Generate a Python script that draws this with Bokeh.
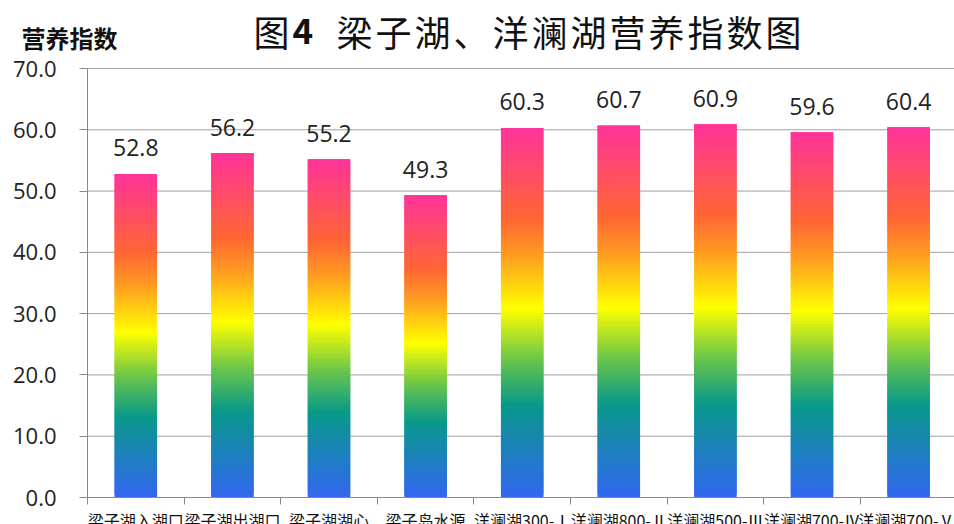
from bokeh.plotting import figure
from bokeh.models import Range1d, FixedTicker, Label, ColumnDataSource
from bokeh.core.properties import value
from bokeh.embed import file_html
from bokeh.resources import INLINE

categories = ["梁子湖入湖口", "梁子湖出湖口", "梁子湖湖心", "梁子岛水源",
              "洋澜湖300-Ⅰ", "洋澜湖800-Ⅱ", "洋澜湖500-Ⅲ", "洋澜湖700-Ⅳ", "洋澜湖700-Ⅴ"]
values = [52.8, 56.2, 55.2, 49.3, 60.3, 60.7, 60.9, 59.6, 60.4]
y_ticks = [0, 10, 20, 30, 40, 50, 60, 70]
y_max = 70
title_head = "图"
title_num = "4"
title_rest = "梁子湖、洋澜湖营养指数图"
y_title = "营养指数"

# gradient stops (fraction of bar height, colour)
stops = [(0.0, (0x33, 0x66, 0xF2)), (0.25, (0x08, 0x99, 0x8A)), (0.37, (0x66, 0xC4, 0x4C)),
         (0.51, (0xFF, 0xFF, 0x00)), (0.66, (0xFF, 0x99, 0x22)), (0.755, (0xFF, 0x66, 0x33)),
         (1.0, (0xFF, 0x33, 0x99))]


def grad_color(f):
    for (f0, c0), (f1, c1) in zip(stops[:-1], stops[1:]):
        if f <= f1:
            t = (f - f0) / (f1 - f0) if f1 > f0 else 0
            r, g, b = (int(round(a + (bb - a) * t)) for a, bb in zip(c0, c1))
            return "#%02x%02x%02x" % (r, g, b)
    return "#%02x%02x%02x" % stops[-1][1]


# page geometry (pixels): where the plotting area sits inside the canvas
W, H = 954, 524
ax_left_px, ax_bottom_px, ax_top_px = 87, 497, 68
cat_px = 96.6
unit_px = (ax_bottom_px - ax_top_px) / y_max

x_start = -ax_left_px / cat_px
x_end = (W - ax_left_px) / cat_px
y_start = -(H - ax_bottom_px) / unit_px
y_end = y_max + ax_top_px / unit_px

n = len(categories)
centers = [i + 0.5 for i in range(n)]
N = 120
half = 0.22
ql, qr, qb, qt, qc = [], [], [], [], []
for xc, v in zip(centers, values):
    for k in range(N):
        ql.append(xc - half)
        qr.append(xc + half)
        qb.append(v * k / N)
        qt.append(min(v, v * (k + 2) / N))
        qc.append(grad_color((k + 0.5) / N))

p = figure(width=W, height=H, output_backend="svg", toolbar_location=None,
           x_range=Range1d(x_start, x_end), y_range=Range1d(y_start, y_end),
           min_border_left=0, min_border_right=0, min_border_top=0, min_border_bottom=0)
p.outline_line_color = None
p.background_fill_color = "white"
p.xgrid.visible = False
p.ygrid.visible = False

# horizontal grid lines, from the axis to the right edge
p.segment(x0=[0] * len(y_ticks), x1=[n] * len(y_ticks), y0=y_ticks, y1=y_ticks,
          line_color="#a0a0a0", line_width=1)

p.quad(left=ql, right=qr, bottom=qb, top=qt, fill_color=qc, line_color=None)

src = ColumnDataSource(dict(x=centers, y=values, t=["%.1f" % v for v in values]))
p.text(x="x", y="y", text="t", source=src, text_align="center", text_baseline="alphabetic",
       y_offset=-26, text_font=value("Open Sans"), text_font_size="23px", text_color="#222222")

# y axis
ya = p.yaxis[0]
ya.fixed_location = 0
ya.bounds = (0, y_max)
ya.ticker = FixedTicker(ticks=y_ticks)
ya.major_label_overrides = {t: "%.1f" % t for t in y_ticks}
ya.major_label_text_font = "Open Sans"
ya.major_label_text_font_size = "22px"
ya.major_label_text_color = "#222222"
ya.major_label_standoff = 23
ya.major_tick_out = 8
ya.major_tick_in = 0
ya.minor_tick_line_color = None
ya.axis_line_color = "#888888"
ya.major_tick_line_color = "#888888"

# x axis
xa = p.xaxis[0]
xa.fixed_location = 0
xa.bounds = (0, n)
xa.ticker = FixedTicker(ticks=centers, minor_ticks=list(range(n + 1)))
xa.major_label_overrides = {c: lab for c, lab in zip(centers, categories)}
xa.major_label_text_font = "Noto Sans CJK SC"
xa.major_label_text_font_size = "16px"
xa.major_label_text_color = "#111111"
xa.major_label_standoff = 3
xa.major_tick_out = 7
xa.major_tick_line_color = None
xa.minor_tick_out = 7
xa.minor_tick_in = 0
xa.minor_tick_line_color = "#888888"
xa.axis_line_color = "#888888"

# titles (screen units, measured from the bottom-left of the canvas)
p.add_layout(Label(x=21, y=H - 37, x_units="screen", y_units="screen", text=y_title,
                   text_font="Noto Sans CJK SC", text_font_size="24px", text_font_style="bold",
                   text_baseline="middle", text_color="#111111"))
p.add_layout(Label(x=253, y=H - 30, x_units="screen", y_units="screen", text=title_head,
                   text_font="Noto Sans CJK SC", text_font_size="36px",
                   text_baseline="middle", text_color="#111111"))
p.add_layout(Label(x=292, y=H - 30, x_units="screen", y_units="screen", text=title_num,
                   text_font="Noto Sans CJK SC", text_font_size="35px", text_font_style="bold",
                   text_baseline="middle", text_color="#111111"))
for i, ch in enumerate(title_rest):
    p.add_layout(Label(x=336 + 39 * i, y=H - 30, x_units="screen", y_units="screen", text=ch,
                       text_font="Noto Sans CJK SC", text_font_size="36px",
                       text_baseline="middle", text_color="#111111"))

open("out.html", "w").write(file_html(p, INLINE))
